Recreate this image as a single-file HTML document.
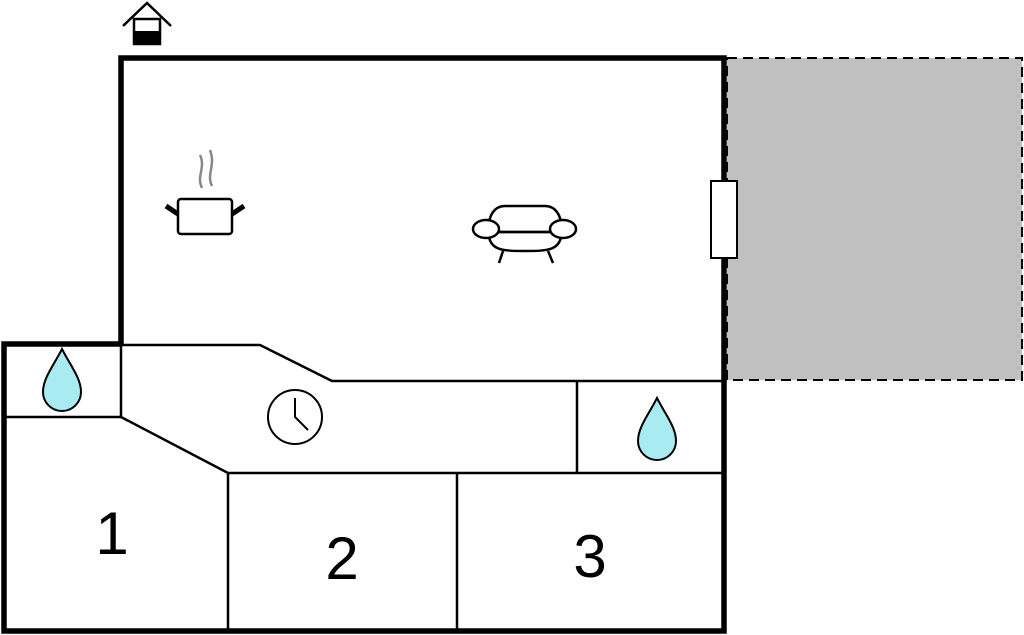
<!DOCTYPE html>
<html><head><style>html,body{margin:0;padding:0;background:#fff;}svg{display:block}</style></head>
<body>
<svg width="1024" height="635" viewBox="0 0 1024 635" xmlns="http://www.w3.org/2000/svg">
<rect x="727" y="58" width="295" height="322" fill="#c0c0c0" stroke="#000" stroke-width="2" stroke-dasharray="10,6"/>
<g fill="none" stroke="#000" stroke-width="2.5">
<polyline points="121,345 260,345 332,381 724,381"/>
<line x1="121" y1="345" x2="121" y2="417"/>
<line x1="4" y1="417" x2="121" y2="417"/>
<polyline points="121,417 228,473 724,473"/>
<line x1="228" y1="473" x2="228" y2="631"/>
<line x1="457" y1="473" x2="457" y2="631"/>
<line x1="577" y1="381" x2="577" y2="473"/>
</g>
<path d="M121,344 V58 H724 V631 H4 V344 H121" fill="none" stroke="#000" stroke-width="5.5"/>
<rect x="711" y="181" width="26" height="77" fill="#fff" stroke="#000" stroke-width="2"/>
<g stroke="#000" stroke-width="2.5" fill="none">
<polyline points="123,26 147,3 171,26"/>
<rect x="134" y="19" width="26" height="25" fill="#fff"/>
</g>
<rect x="133" y="31" width="28" height="14" fill="#000"/>
<g fill="none" stroke="#888" stroke-width="2.5">
<path d="M202,188 C196,176 206,168 200,155"/>
<path d="M212,186 C206,174 216,166 210,150"/>
</g>
<rect x="178" y="199" width="54" height="35" rx="3" fill="#fff" stroke="#000" stroke-width="2.5"/>
<line x1="166" y1="206" x2="178" y2="214" stroke="#000" stroke-width="5"/>
<line x1="244" y1="206" x2="232" y2="214" stroke="#000" stroke-width="5"/>
<g fill="#fff" stroke="#000" stroke-width="2.5">
<path d="M489,233 C487,215 495,206 505,206 L545,206 C555,206 563,215 561,233 Z"/>
<path d="M488,232 C490,250 500,251 525,251 C550,251 560,250 562,232 Z"/>
<line x1="488" y1="232" x2="562" y2="232"/>
<line x1="503" y1="251" x2="499" y2="263"/>
<line x1="548" y1="251" x2="553" y2="263"/>
<ellipse cx="486" cy="229" rx="13" ry="9"/>
<ellipse cx="563" cy="229" rx="13" ry="9"/>
</g>
<path d="M62,349 C70,365 81,378 81,392 A19,19 0 0 1 43,392 C43,378 54,365 62,349 Z" fill="#a8ecf2" stroke="#000" stroke-width="2"/>
<path d="M657,398 C665,414 676,427 676,441 A19,19 0 0 1 638,441 C638,427 649,414 657,398 Z" fill="#a8ecf2" stroke="#000" stroke-width="2"/>
<circle cx="295" cy="417" r="27" fill="#fff" stroke="#000" stroke-width="2"/>
<polyline points="295,398 295,417 308,430" fill="none" stroke="#000" stroke-width="2"/>
<g font-family="Liberation Sans, sans-serif" font-size="60" text-anchor="middle" fill="#000">
<text x="112" y="554">1</text>
<text x="342" y="579">2</text>
<text x="590" y="577">3</text>
</g>
</svg>
</body></html>
